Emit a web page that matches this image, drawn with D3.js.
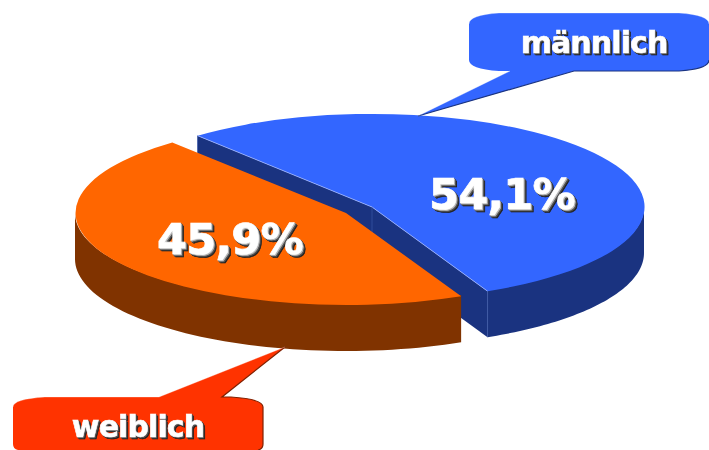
<!DOCTYPE html>
<html><head><meta charset="utf-8">
<script src="https://cdn.jsdelivr.net/npm/d3@7"></script>
<style>
html,body{margin:0;padding:0;background:#fff}
svg{display:block}
text{font-family:"DejaVu Sans",sans-serif;font-weight:700;fill:#fff;text-anchor:middle;stroke:#fff}
.val{font-size:43px;letter-spacing:-.6px;stroke-width:.7px;filter:drop-shadow(1px 1px 0 #bbb) drop-shadow(1px 1px 0 #555) drop-shadow(1px 1px .5px #222)}
.cat{font-size:30px;letter-spacing:-.9px;stroke-width:.6px;filter:drop-shadow(1px 1px 0 #555) drop-shadow(1px 1px 0 #222)}
</style></head><body>
<svg id="c" width="709" height="450"></svg>
<script>
const categories=["männlich","weiblich"];
const values=[54.1,45.9];
const valueLabels=["54,1%","45,9%"];
const topColors=["#3366ff","#ff6600"];
const sideColors=["#1a3380","#803300"];
const calloutColors=["#3366ff","#ff3300"];
const calloutEdges=["#1a3380","#802000"];
const centers=[[372,207],[346,213]];
const radii=[[272,93],[271,92]];
const depth=46;
const startDeg=-39.9;

const svg=d3.select("#c");
const pie=d3.pie().sort(null).startAngle(startDeg*Math.PI/180).endAngle((startDeg+360)*Math.PI/180);
const arcs=pie(values);
const unit=d3.arc().innerRadius(0).outerRadius(1);
const pt=(i,a,dz=0)=>[centers[i][0]+radii[i][0]*Math.sin(a),centers[i][1]-radii[i][1]*Math.cos(a)+dz];

function outerWall(i){
  const a0=Math.max(arcs[i].startAngle,Math.PI/2),a1=Math.min(arcs[i].endAngle,3*Math.PI/2);
  const as=d3.range(0,61).map(k=>a0+(a1-a0)*k/60);
  return d3.line()([...as.map(a=>pt(i,a,1.5*Math.cos(a))),...as.slice().reverse().map(a=>pt(i,a,depth))])+"Z";
}
function cutWall(i,a){
  const c=centers[i],p=pt(i,a);
  return d3.line()([c,p,[p[0],p[1]+depth],[c[0],c[1]+depth]])+"Z";
}
function drawSlice(i){
  const g=svg.append("g");
  if(i===0){
    g.append("path").attr("d",cutWall(0,arcs[0].startAngle)).attr("fill",sideColors[0]);
    g.append("path").attr("d",cutWall(0,arcs[0].endAngle)).attr("fill",sideColors[0]);
  }
  g.append("path").attr("d",outerWall(i)).attr("fill",sideColors[i]);
  g.append("path").attr("d",unit(arcs[i]))
    .attr("transform",`translate(${centers[i]}) scale(${radii[i]})`).attr("fill",topColors[i]);
  if(i===0){
    [arcs[0].startAngle,arcs[0].endAngle].forEach(a=>{
      const p=pt(0,a),c=centers[0];
      g.append("line").attr("x1",c[0]).attr("y1",c[1]).attr("x2",p[0]).attr("y2",p[1])
        .attr("stroke","#9db4ff").attr("stroke-width",.8);
      g.append("line").attr("x1",p[0]).attr("y1",p[1]).attr("x2",p[0]).attr("y2",p[1]+depth)
        .attr("stroke","#3a56a8").attr("stroke-width",.7);
    });
    g.append("line").attr("x1",centers[0][0]).attr("y1",centers[0][1]).attr("x2",centers[0][0]).attr("y2",centers[0][1]+depth)
      .attr("stroke","#3a56a8").attr("stroke-width",.7);
  }
}
drawSlice(0);drawSlice(1);

// callouts
const calloutPaths=[
 "M418,116 L510,71 L499,71 Q469,69 469,60 L469,24 Q469,15 499,13 L679,13 Q709,15 709,24 L709,60 Q709,69 679,71 L574,71 Z",
 "M285,347 L159,397 L45,397 Q13,399 13,407 L13,444 Q13,449 18,450 L258,450 Q263,449 263,444 L263,407 Q263,399 231,397 L222,397 Z"
];
const edgePaths=[
 "M418,116 L574,71 L679,71 Q709,69 709,60",
 "M285,347 L222,397 L231,397 Q263,399 263,407 L263,444 Q263,449 258,450"
];
const highlightPaths=[
 "M418,116 L510,71 M469,24 Q469,15 499,13 L679,13 Q709,15 709,24",
 "M285,347 L159,397 L45,397 Q13,399 13,407"
];
categories.forEach((c,i)=>{
  svg.append("path").attr("d",calloutPaths[i]).attr("fill",calloutColors[i]);
  svg.append("path").attr("d",edgePaths[i]).attr("fill","none").attr("stroke",calloutEdges[i]).attr("stroke-width",1.2);
  svg.append("path").attr("d",highlightPaths[i]).attr("fill","none").attr("stroke","#fff").attr("stroke-opacity",.3).attr("stroke-width",1);
});

const valuePos=[[502,209],[230,254]];
const catPos=[[594,53],[138,437]];
valueLabels.forEach((t,i)=>svg.append("text").attr("class","val").attr("x",valuePos[i][0]).attr("y",valuePos[i][1]).text(t));
categories.forEach((t,i)=>svg.append("text").attr("class","cat").attr("x",catPos[i][0]).attr("y",catPos[i][1]).text(t));
</script></body></html>
